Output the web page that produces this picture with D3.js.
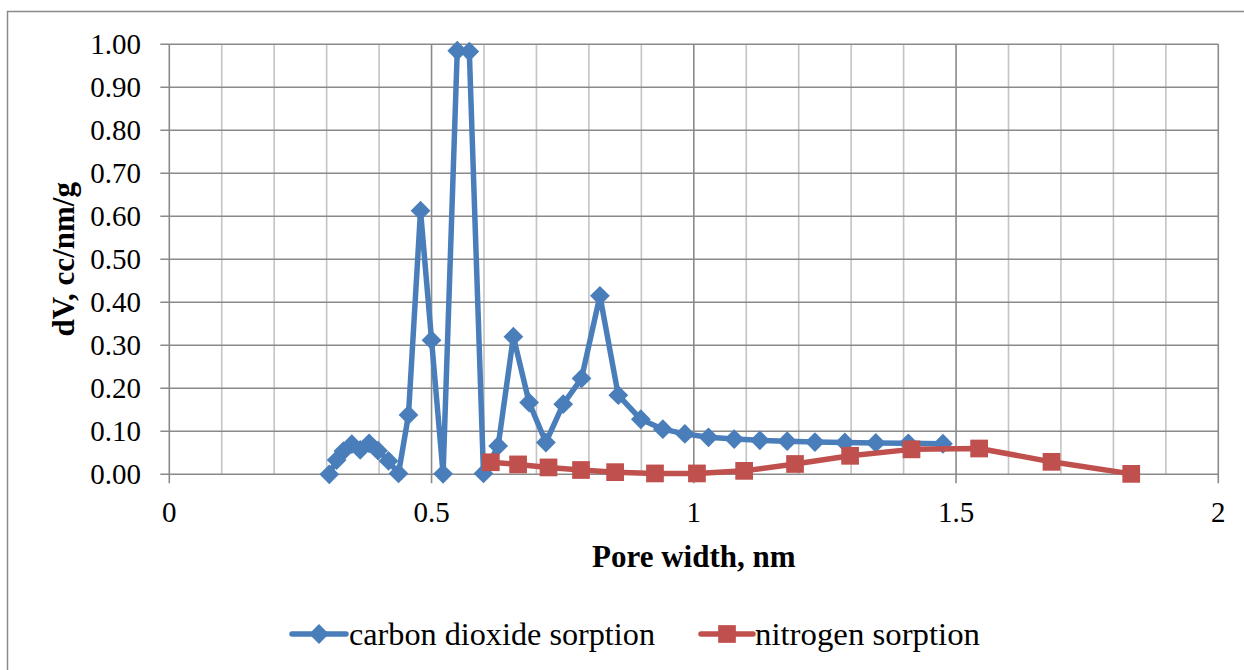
<!DOCTYPE html>
<html>
<head>
<meta charset="utf-8">
<script src="https://cdn.jsdelivr.net/npm/d3@7/dist/d3.min.js"></script>
<style>
  html, body { margin: 0; padding: 0; background: #fff; }
  svg { display: block; }
</style>
</head>
<body>
<svg id="chart" width="1244" height="670"></svg>
<script>
// Pore size distribution: CO2 sorption vs N2 sorption
const co2Width = [0.305, 0.319, 0.332, 0.348, 0.364, 0.381, 0.398, 0.418, 0.437, 0.456,
                  0.479, 0.500, 0.522, 0.549, 0.572, 0.599, 0.627, 0.656, 0.686, 0.718,
                  0.751, 0.786, 0.821, 0.856, 0.899, 0.941, 0.983, 1.028, 1.077, 1.126,
                  1.178, 1.231, 1.288, 1.347, 1.409, 1.475];
const co2dV = [0.000, 0.033, 0.054, 0.070, 0.057, 0.072, 0.055, 0.031, 0.002, 0.138,
               0.613, 0.312, 0.001, 0.985, 0.983, 0.002, 0.066, 0.320, 0.167, 0.074,
               0.163, 0.223, 0.415, 0.184, 0.128, 0.105, 0.094, 0.086, 0.082, 0.079,
               0.077, 0.075, 0.074, 0.073, 0.072, 0.071];

const n2Width = [0.613, 0.665, 0.723, 0.785, 0.850, 0.926, 1.006, 1.096, 1.193, 1.298,
                 1.415, 1.544, 1.682, 1.834];
const n2dV = [0.028, 0.023, 0.016, 0.010, 0.005, 0.002, 0.002, 0.008, 0.024, 0.043,
              0.058, 0.060, 0.029, 0.001];

const xTicks = [0, 0.5, 1, 1.5, 2];
const xMinor = d3.range(0, 2.0001, 0.1);
const yTicks = d3.range(0, 1.0001, 0.1);

const seriesNames = ["carbon dioxide sorption", "nitrogen sorption"];
const xTitle = "Pore width, nm";
const yTitle = "dV, cc/nm/g";

const blue = "#4a7ebb";
const red = "#c0504d";
const gridDark = "#8a8a8a";
const gridLight = "#c4c4c4";
const serif = "'Liberation Serif', 'Times New Roman', serif";

const svg = d3.select("#chart");

// outer chart frame
svg.append("rect")
  .attr("x", 7.5).attr("y", 11.5)
  .attr("width", 1300).attr("height", 700)
  .attr("fill", "none").attr("stroke", "#8a8a8a").attr("stroke-width", 1.5);

const plotL = 169.3, plotR = 1218.3, plotT = 44.3, plotB = 474.3;
const x = d3.scaleLinear().domain([0, 2]).range([plotL, plotR]);
const y = d3.scaleLinear().domain([0, 1]).range([plotB, plotT]);

const grid = svg.append("g");

// minor vertical grid (every 0.1)
grid.selectAll("line.vminor")
  .data(xMinor.filter(v => Math.abs(v * 2 - Math.round(v * 2)) > 1e-6))
  .join("line")
  .attr("x1", d => x(d)).attr("x2", d => x(d))
  .attr("y1", plotT).attr("y2", plotB)
  .attr("stroke", gridLight).attr("stroke-width", 1.6);

// horizontal grid with left tick marks
grid.selectAll("line.h")
  .data(yTicks)
  .join("line")
  .attr("x1", plotL - 9).attr("x2", plotR)
  .attr("y1", d => y(d)).attr("y2", d => y(d))
  .attr("stroke", gridDark).attr("stroke-width", 1.6);

// major vertical grid with bottom tick marks
grid.selectAll("line.vmajor")
  .data(xTicks)
  .join("line")
  .attr("x1", d => x(d)).attr("x2", d => x(d))
  .attr("y1", plotT).attr("y2", plotB + 9)
  .attr("stroke", gridDark).attr("stroke-width", 1.6);

// tick labels
svg.append("g").selectAll("text")
  .data(yTicks)
  .join("text")
  .attr("x", 141).attr("y", d => y(d))
  .attr("dy", "0.35em")
  .attr("text-anchor", "end")
  .attr("font-family", serif).attr("font-size", 29)
  .attr("fill", "#000")
  .text(d => d3.format(".2f")(d));

svg.append("g").selectAll("text")
  .data(xTicks)
  .join("text")
  .attr("x", d => x(d)).attr("y", plotB + 38)
  .attr("dy", "0.35em")
  .attr("text-anchor", "middle")
  .attr("font-family", serif).attr("font-size", 29)
  .attr("fill", "#000")
  .text(d => String(d));

// axis titles
svg.append("text")
  .attr("x", (plotL + plotR) / 2).attr("y", 556)
  .attr("dy", "0.35em")
  .attr("text-anchor", "middle")
  .attr("font-family", serif).attr("font-size", 31).attr("font-weight", "bold")
  .text(xTitle);

svg.append("text")
  .attr("transform", `translate(63,${(plotT + plotB) / 2}) rotate(-90)`)
  .attr("dy", "0.35em")
  .attr("text-anchor", "middle")
  .attr("font-family", serif).attr("font-size", 31).attr("font-weight", "bold")
  .text(yTitle);

// series
const co2 = co2Width.map((w, i) => ({ w, v: co2dV[i] }));
const n2 = n2Width.map((w, i) => ({ w, v: n2dV[i] }));

const line = d3.line().x(d => x(d.w)).y(d => y(d.v));
const diamond = d3.symbol().type(d3.symbolDiamond2).size(250);
const square = d3.symbol().type(d3.symbolSquare2).size(20 * 20);

const plot = svg.append("g");

plot.append("path").datum(co2)
  .attr("d", line)
  .attr("fill", "none").attr("stroke", blue).attr("stroke-width", 5.5)
  .attr("stroke-linejoin", "round").attr("stroke-linecap", "round");

plot.selectAll("path.co2m")
  .data(co2)
  .join("path")
  .attr("class", "co2m")
  .attr("transform", d => `translate(${x(d.w)},${y(d.v)})`)
  .attr("d", diamond)
  .attr("fill", blue);

plot.append("path").datum(n2)
  .attr("d", line)
  .attr("fill", "none").attr("stroke", red).attr("stroke-width", 5.5)
  .attr("stroke-linejoin", "round").attr("stroke-linecap", "round");

plot.selectAll("path.n2m")
  .data(n2)
  .join("path")
  .attr("class", "n2m")
  .attr("transform", d => `translate(${x(d.w)},${y(d.v)})`)
  .attr("d", square)
  .attr("fill", red);

// legend
const legendY = 634;
const legendItems = [
  { name: seriesNames[0], color: blue, sym: diamond, x0: 292, x1: 346, tx: 349, tw: 306 },
  { name: seriesNames[1], color: red, sym: square, x0: 701, x1: 753, tx: 755, tw: 225 }
];
const lg = svg.append("g").selectAll("g").data(legendItems).join("g");
lg.append("line")
  .attr("x1", d => d.x0).attr("x2", d => d.x1)
  .attr("y1", legendY).attr("y2", legendY)
  .attr("stroke", d => d.color).attr("stroke-width", 5.5).attr("stroke-linecap", "round");
lg.append("path")
  .attr("transform", d => `translate(${(d.x0 + d.x1) / 2},${legendY})`)
  .attr("d", d => d.sym())
  .attr("fill", d => d.color);
lg.append("text")
  .attr("x", d => d.tx).attr("y", legendY)
  .attr("dy", "0.35em")
  .attr("font-family", serif).attr("font-size", 31)
  .attr("textLength", d => d.tw).attr("lengthAdjust", "spacingAndGlyphs")
  .text(d => d.name);
</script>
</body>
</html>
